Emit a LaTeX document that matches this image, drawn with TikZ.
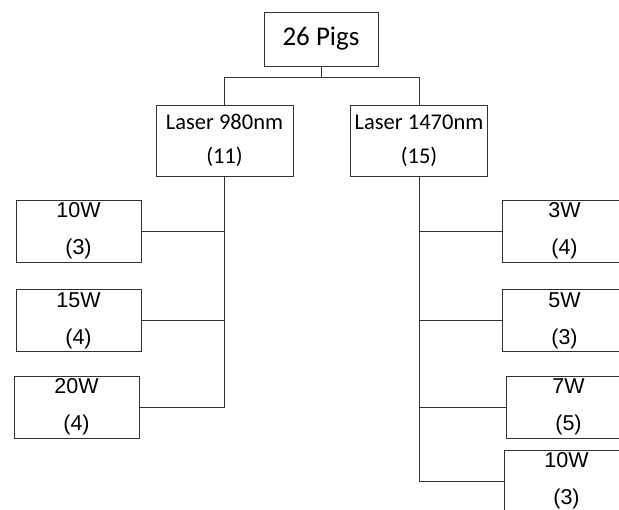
\documentclass[tikz,border=0pt]{standalone}
\usepackage{fontspec}
\setmainfont{Carlito}
\newfontfamily\arialf{Liberation Sans}
\begin{document}
\begin{tikzpicture}[x=1pt,y=1pt,
  box/.style={draw=black!80, line width=0.9pt, rectangle, inner sep=0pt, align=center},
  topbox/.style={box, font=\fontsize{22.5}{34}\selectfont},
  wbox/.style={box, minimum width=125pt, minimum height=62pt, font=\arialf\fontsize{21.5}{37}\selectfont},
  conn/.style={draw=black!80, line width=0.9pt}]
\useasboundingbox (0,0) rectangle (619,-510);
\clip (0,0) rectangle (619,-510);
\node[box, minimum width=114pt, minimum height=54pt, font=\fontsize{27}{30}\selectfont] (pigs) at (321,-39) {26 Pigs};
\node[topbox, minimum width=137pt, minimum height=71pt] (l980) at (224.5,-140.5) {Laser 980nm\\(11)};
\node[topbox, minimum width=137pt, minimum height=71pt] (l1470) at (419,-140.5) {Laser 1470nm\\(15)};
\node[wbox] (w10) at (78.5,-231) {10W\\(3)};
\node[wbox] (w15) at (78.5,-320.5) {15W\\(4)};
\node[wbox] (w20) at (76.5,-407) {20W\\(4)};
\node[wbox] (r3) at (564.5,-231) {3W\\(4)};
\node[wbox] (r5) at (564.5,-320.5) {5W\\(3)};
\node[wbox] (r7) at (568.5,-407) {7W\\(5)};
\node[wbox] (r10) at (566.5,-481) {10W\\(3)};
\coordinate (split) at (321,-77);
\draw[conn] (pigs.south) -- (split);
\draw[conn] (split) -| (l980.north);
\draw[conn] (split) -| (l1470.north);
\draw[conn] (l980.south) |- (w20.east);
\draw[conn] (w10.east) -- (l980.south |- w10.east);
\draw[conn] (w15.east) -- (l980.south |- w15.east);
\draw[conn] (l1470.south) |- (r10.west);
\draw[conn] (r3.west) -- (l1470.south |- r3.west);
\draw[conn] (r5.west) -- (l1470.south |- r5.west);
\draw[conn] (r7.west) -- (l1470.south |- r7.west);
\end{tikzpicture}
\end{document}
